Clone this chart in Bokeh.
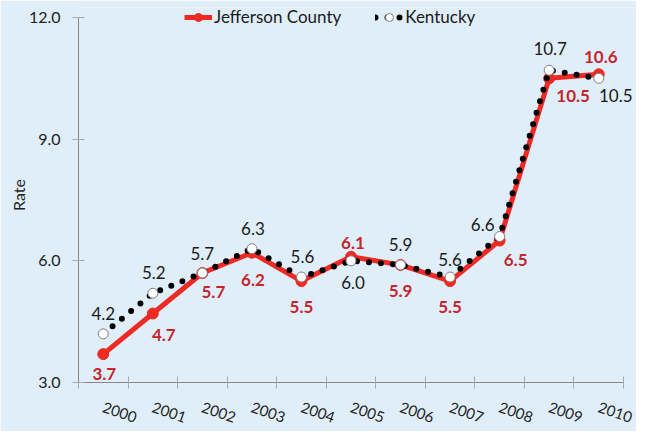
from bokeh.plotting import figure
from bokeh.models import (ColumnDataSource, FixedTicker, NumeralTickFormatter, LabelSet,
                          Legend, LegendItem, Range1d)
from bokeh.core.properties import value
from bokeh.embed import file_html
from bokeh.resources import INLINE

# ---- data ----
years = ["2000", "2001", "2002", "2003", "2004", "2005", "2006", "2007", "2008", "2009", "2010"]
jefferson = [3.7, 4.7, 5.7, 6.2, 5.5, 6.1, 5.9, 5.5, 6.5, 10.5, 10.6]
kentucky = [4.2, 5.2, 5.7, 6.3, 5.6, 6.0, 5.9, 5.6, 6.6, 10.7, 10.5]
y_ticks = [3, 6, 9, 12]

# ---- label offsets (screen px; dx right, dy up) ----
j_dx = [1, 11, 11, 1, 0, 2, 0, 0, 16, 24, 2]
j_dy = [-20, -21, -19, -27, -26, 14, -26, -26, -19, -18, 17]
k_dx = [0, 1, 0, 1, 1, 2, 0, 0, -17, 1, 17]
k_dy = [20, 21, 20, 20, 21, -22, 20, 18, 12, 22, -17]

BG = "#E0EEFA"
RED = "#EE2A24"
LABEL_RED = "#C4262E"
FONT = "Lato"

n = len(years)
idx = list(range(n))

# layout: frame 558 x 375 px; axes drawn only over their bounds
FW, FH = 558, 375
PX_CAT = 545 / n            # px per category along x
PX_UNIT = 365 / (y_ticks[-1] - y_ticks[0])   # px per rate unit
x_end = -0.5 + FW / PX_CAT
y_end = y_ticks[0] + FH / PX_UNIT

p = figure(frame_width=FW, frame_height=FH,
           x_range=Range1d(-0.5, x_end), y_range=Range1d(y_ticks[0], y_end),
           output_backend="svg", toolbar_location=None,
           min_border_left=78, min_border_right=0, min_border_top=7, min_border_bottom=34)
p.background_fill_color = BG
p.border_fill_color = BG
p.outline_line_color = None
p.xgrid.visible = False
p.ygrid.visible = False

# y axis
ya = p.yaxis[0]
ya.bounds = (y_ticks[0], y_ticks[-1])
ya.ticker = FixedTicker(ticks=y_ticks)
ya.formatter = NumeralTickFormatter(format="0.0")
ya.axis_line_color = "#888888"
ya.major_tick_line_color = "#AAAAAA"
ya.major_tick_in = 6
ya.major_tick_out = 6
ya.minor_tick_line_color = None
ya.major_label_text_font = FONT
ya.major_label_text_font_size = "16px"
ya.major_label_text_color = "#222222"
ya.major_label_standoff = 12
ya.axis_label = "Rate"
ya.axis_label_text_font = FONT
ya.axis_label_text_font_size = "16px"
ya.axis_label_text_font_style = "normal"
ya.axis_label_text_color = "#222222"
ya.axis_label_standoff = -2

# x axis
xa = p.xaxis[0]
xa.bounds = (-0.5, n - 0.5)
xa.ticker = FixedTicker(ticks=idx, minor_ticks=[i - 0.5 for i in range(n + 1)])
xa.major_label_overrides = {i: years[i] for i in idx}
xa.axis_line_color = "#888888"
xa.major_tick_line_color = None
xa.major_tick_in = 0
xa.major_tick_out = 0
xa.minor_tick_line_color = "#AAAAAA"
xa.minor_tick_in = 6
xa.minor_tick_out = 6
xa.major_label_orientation = -0.33
xa.major_label_text_font = FONT
xa.major_label_text_font_size = "15px"
xa.major_label_text_color = "#222222"
xa.major_label_standoff = 18

# series
jl = p.line(idx, jefferson, line_color=RED, line_width=5)
js = p.scatter(idx, jefferson, size=11, fill_color=RED, line_color=RED)
kl = p.line(idx, kentucky, line_color="black", line_width=6, line_dash="0 12", line_cap="round")
ks = p.scatter(idx, kentucky, size=10, fill_color="white", line_color="#7F7F7F", line_width=1)

# data labels
jsrc = ColumnDataSource(dict(x=idx, y=jefferson, t=["%.1f" % v for v in jefferson], dx=j_dx, dy=j_dy))
ksrc = ColumnDataSource(dict(x=idx, y=kentucky, t=["%.1f" % v for v in kentucky], dx=k_dx, dy=k_dy))
p.add_layout(LabelSet(x="x", y="y", text="t", x_offset="dx", y_offset="dy", source=jsrc,
                      text_align="center", text_baseline="middle", text_font=value(FONT),
                      text_font_size="17px", text_font_style="bold", text_color=LABEL_RED))
p.add_layout(LabelSet(x="x", y="y", text="t", x_offset="dx", y_offset="dy", source=ksrc,
                      text_align="center", text_baseline="middle", text_font=value(FONT),
                      text_font_size="17px", text_color="#1A1A1A"))

legend = Legend(items=[LegendItem(label="Jefferson County", renderers=[jl, js]),
                       LegendItem(label="Kentucky", renderers=[kl, ks])],
                location=(106, FH - 20), orientation="horizontal")
legend.background_fill_alpha = 0
legend.border_line_alpha = 0
legend.padding = 0
legend.margin = 0
legend.spacing = 34
legend.glyph_width = 28
legend.glyph_height = 20
legend.label_height = 20
legend.label_standoff = 2
legend.label_text_font = FONT
legend.label_text_font_size = "17px"
legend.label_text_color = "#1A1A1A"
p.add_layout(legend)

open("out.html", "w").write(file_html(p, INLINE))
